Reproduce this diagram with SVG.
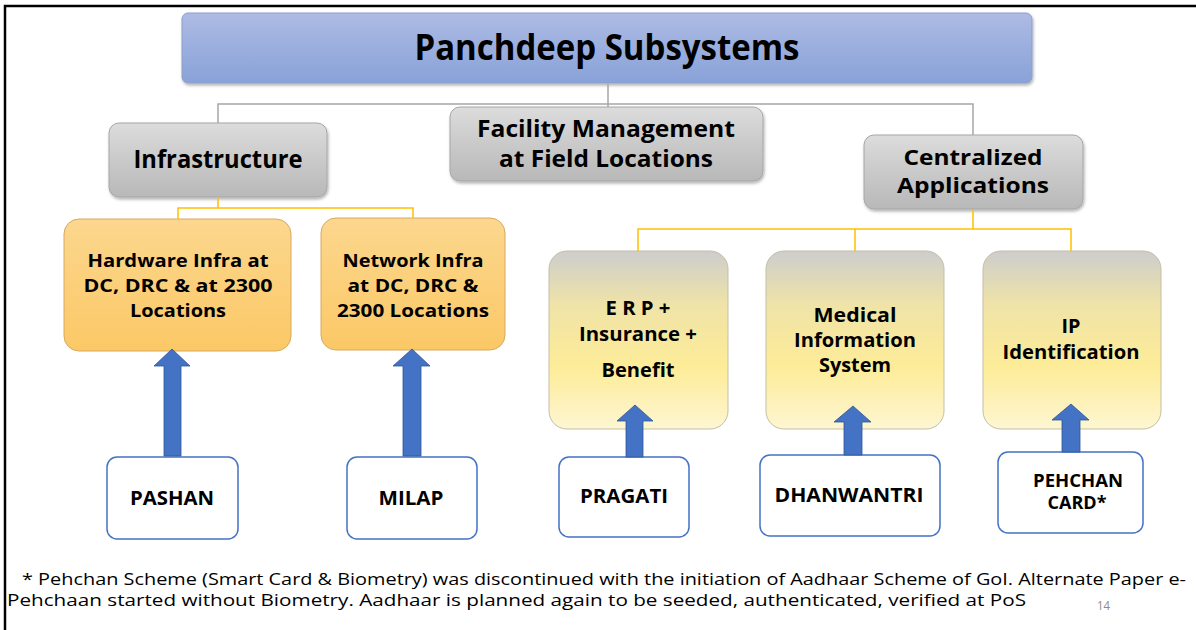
<svg xmlns="http://www.w3.org/2000/svg" width="1196" height="630" viewBox="0 0 1196 630">
<defs>
<linearGradient id="gTitle" x1="0" y1="0" x2="0" y2="1">
<stop offset="0" stop-color="#adbbe4"/><stop offset="1" stop-color="#89a2d8"/>
</linearGradient>
<linearGradient id="gGray" x1="0" y1="0" x2="0" y2="1">
<stop offset="0" stop-color="#dcdcdc"/><stop offset="1" stop-color="#b8b8b8"/>
</linearGradient>
<linearGradient id="gOrange" x1="0" y1="0" x2="0" y2="1">
<stop offset="0" stop-color="#fcd78e"/><stop offset="1" stop-color="#fbc866"/>
</linearGradient>
<linearGradient id="gYellow" x1="0" y1="0" x2="0" y2="1">
<stop offset="0" stop-color="#cdcdcd"/><stop offset="0.3" stop-color="#efe3a8"/><stop offset="0.65" stop-color="#fdec98"/><stop offset="1" stop-color="#fdf6d2"/>
</linearGradient>
<filter id="sh" x="-10%" y="-10%" width="120%" height="130%">
<feDropShadow dx="1" dy="2" stdDeviation="1.5" flood-color="#000" flood-opacity="0.3"/>
</filter>
</defs>
<style>
.t{font-family:"Open Sans","Liberation Sans",sans-serif;font-weight:bold;fill:#000;text-anchor:middle}
.ft{font-family:"Open Sans","Liberation Sans",sans-serif;fill:#000}
.gray{fill:url(#gGray);stroke:#a6a6a6;stroke-width:1;filter:url(#sh)}
.org{fill:url(#gOrange);stroke:#d8a860;stroke-width:1}
.yel{fill:url(#gYellow);stroke:#c4bfa5;stroke-width:1}
.wb{fill:#fff;stroke:#4472c4;stroke-width:1.5}
.arr{fill:#4472c4;stroke:#2f5597;stroke-width:0.8}
.cg{fill:none;stroke:#a6a6a6;stroke-width:1.5}
.cy{fill:none;stroke:#ffc000;stroke-width:1.5}
</style>
<rect x="0" y="0" width="1196" height="630" fill="#fff"/>
<path d="M5 630 V6 H1196" fill="none" stroke="#000" stroke-width="2.5"/>

<g id="title">
<rect x="182" y="13" width="850" height="70" rx="6" fill="url(#gTitle)" stroke="#8d9dcc" stroke-width="1" filter="url(#sh)"/>
<text class="t" x="607" y="60" font-size="36" textLength="385" lengthAdjust="spacingAndGlyphs">Panchdeep Subsystems</text>
</g>

<g id="infrastructure">
<rect class="gray" x="109" y="123" width="218" height="74" rx="10"/>
<text class="t" x="218" y="168" font-size="25" textLength="169" lengthAdjust="spacingAndGlyphs">Infrastructure</text>
</g>

<g id="facility">
<rect class="gray" x="450" y="107" width="313" height="74" rx="10"/>
<text class="t" x="606" y="137" font-size="23" textLength="258" lengthAdjust="spacingAndGlyphs">Facility Management</text>
<text class="t" x="606" y="167" font-size="23" textLength="214" lengthAdjust="spacingAndGlyphs">at Field Locations</text>
</g>

<g id="centralized">
<rect class="gray" x="864" y="135" width="219" height="74" rx="10"/>
<text class="t" x="973" y="165" font-size="22" textLength="139" lengthAdjust="spacingAndGlyphs">Centralized</text>
<text class="t" x="973" y="193" font-size="22" textLength="152" lengthAdjust="spacingAndGlyphs">Applications</text>
</g>

<g id="hardware">
<rect class="org" x="64" y="219" width="227" height="132" rx="15"/>
<text class="t" x="178" y="267" font-size="18.5" textLength="181" lengthAdjust="spacingAndGlyphs">Hardware Infra at</text>
<text class="t" x="178" y="292" font-size="18.5" textLength="189" lengthAdjust="spacingAndGlyphs">DC, DRC &amp; at 2300</text>
<text class="t" x="178" y="317" font-size="18.5" textLength="96" lengthAdjust="spacingAndGlyphs">Locations</text>
</g>

<g id="network">
<rect class="org" x="321" y="218" width="184" height="132" rx="15"/>
<text class="t" x="413" y="267" font-size="18.5" textLength="141" lengthAdjust="spacingAndGlyphs">Network Infra</text>
<text class="t" x="413" y="292" font-size="18.5" textLength="131" lengthAdjust="spacingAndGlyphs">at DC, DRC &amp;</text>
<text class="t" x="413" y="317" font-size="18.5" textLength="152" lengthAdjust="spacingAndGlyphs">2300 Locations</text>
</g>

<g id="erp">
<rect class="yel" x="549" y="251" width="179" height="178" rx="18"/>
<text class="t" x="638" y="315" font-size="19" textLength="65" lengthAdjust="spacingAndGlyphs">E R P +</text>
<text class="t" x="638" y="341" font-size="19" textLength="118" lengthAdjust="spacingAndGlyphs">Insurance +</text>
<text class="t" x="638" y="377" font-size="19" textLength="73" lengthAdjust="spacingAndGlyphs">Benefit</text>
</g>

<g id="medical">
<rect class="yel" x="766" y="251" width="178" height="178" rx="18"/>
<text class="t" x="855" y="322" font-size="19" textLength="83" lengthAdjust="spacingAndGlyphs">Medical</text>
<text class="t" x="855" y="347" font-size="19" textLength="122" lengthAdjust="spacingAndGlyphs">Information</text>
<text class="t" x="855" y="372" font-size="19" textLength="72" lengthAdjust="spacingAndGlyphs">System</text>
</g>

<g id="ip">
<rect class="yel" x="983" y="251" width="178" height="178" rx="18"/>
<text class="t" x="1071" y="333" font-size="19" textLength="19" lengthAdjust="spacingAndGlyphs">IP</text>
<text class="t" x="1071" y="359" font-size="19" textLength="137" lengthAdjust="spacingAndGlyphs">Identification</text>
</g>

<g id="pashan">
<rect class="wb" x="107" y="457" width="131" height="82" rx="10"/>
<text class="t" x="172" y="505" font-size="20" textLength="84" lengthAdjust="spacingAndGlyphs">PASHAN</text>
</g>

<g id="milap">
<rect class="wb" x="347" y="457" width="130" height="82" rx="10"/>
<text class="t" x="411" y="505" font-size="20" textLength="65" lengthAdjust="spacingAndGlyphs">MILAP</text>
</g>

<g id="pragati">
<rect class="wb" x="559" y="457" width="130" height="80" rx="10"/>
<text class="t" x="624" y="503" font-size="20" textLength="88" lengthAdjust="spacingAndGlyphs">PRAGATI</text>
</g>

<g id="dhanwantri">
<rect class="wb" x="760" y="455" width="180" height="81" rx="10"/>
<text class="t" x="849" y="502" font-size="20" textLength="149" lengthAdjust="spacingAndGlyphs">DHANWANTRI</text>
</g>

<g id="pehchan">
<rect class="wb" x="998" y="452" width="145" height="81" rx="10"/>
<text class="t" x="1078" y="487" font-size="18" textLength="90" lengthAdjust="spacingAndGlyphs">PEHCHAN</text>
<text class="t" x="1077" y="509" font-size="18" textLength="59" lengthAdjust="spacingAndGlyphs">CARD*</text>
</g>

<g id="connectors">
<path class="cg" d="M608 84 V107 M218 123 V104 H973 V135"/>
<path class="cy" d="M218 197 V208 M178 219 V208 H413 V218"/>
<path class="cy" d="M973 209 V229 M638 251 V229 H1071 V251 M855 229 V251"/>
<path class="arr" d="M164 456 V366 H154 L172 349 L190 366 H181 V456 Z"/>
<path class="arr" d="M403 456 V366 H393 L412 349 L430 366 H421 V456 Z"/>
<path class="arr" d="M626 457 V421 H617 L635 405 L653 421 H643 V457 Z"/>
<path class="arr" d="M844 455 V422 H834 L853 406 L871 422 H862 V455 Z"/>
<path class="arr" d="M1062 452 V420 H1052 L1071 404 L1089 420 H1080 V452 Z"/>
</g>

<g id="footnote">
<text class="ft" x="22" y="585" font-size="17" textLength="1164" lengthAdjust="spacingAndGlyphs">* Pehchan Scheme (Smart Card &amp; Biometry) was discontinued with the initiation of  Aadhaar Scheme of GoI. Alternate Paper e-</text>
<text class="ft" x="7" y="606" font-size="17" textLength="1019" lengthAdjust="spacingAndGlyphs">Pehchaan started without Biometry. Aadhaar is planned again to be seeded, authenticated, verified at PoS</text>
<text class="ft" x="1097" y="610" font-size="12" style="fill:#8c8c8c" textLength="13" lengthAdjust="spacingAndGlyphs">14</text>
</g>
</svg>
